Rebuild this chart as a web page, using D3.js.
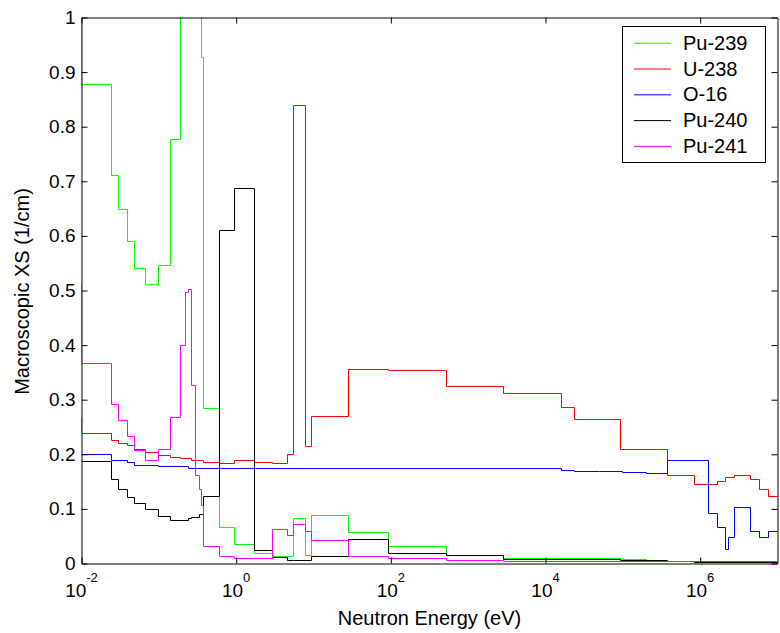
<!DOCTYPE html>
<html>
<head>
<meta charset="utf-8">
<script src="https://cdn.jsdelivr.net/npm/d3@7/dist/d3.min.js"></script>
<style>
  body { margin: 0; background: #fff; }
  text { font-family: "Liberation Sans", Arial, Helvetica, sans-serif; fill: #000; }
</style>
</head>
<body>
<svg id="chart" width="780" height="633"></svg>
<script>
// group start energy (eV), macroscopic XS (1/cm)
const pu239 = [
  [0.001, 1.1], [0.01, 0.877], [0.0245, 0.71], [0.030, 0.648], [0.039, 0.59], [0.048, 0.54],
  [0.067, 0.511], [0.098, 0.546], [0.141, 0.777], [0.189, 2.5], [0.354, 0.927], [0.383, 0.283],
  [0.60, 0.0655], [0.964, 0.034], [1.71, 0.0187], [2.93, 0.0125], [5.58, 0.0827], [7.82, 0.0155],
  [9.46, 0.0887], [28.3, 0.057], [93.8, 0.0307], [519, 0.0155], [2894, 0.0095], [94200, 0.0075],
  [2.0e5, 0.005], [3.74e5, 0.003], [8.45e5, 0.0015], [2.0e6, 0.001]
];
const u238 = [
  [0.001, 0.268], [0.01, 0.238], [0.0245, 0.226], [0.030, 0.22], [0.039, 0.216], [0.048, 0.209],
  [0.067, 0.203], [0.098, 0.198], [0.141, 0.195], [0.19, 0.192], [0.265, 0.188], [0.383, 0.1845],
  [0.60, 0.183], [0.964, 0.188], [1.71, 0.185], [2.93, 0.183], [4.57, 0.2], [5.58, 0.838],
  [7.82, 0.215], [9.46, 0.27], [28.3, 0.355], [93.8, 0.353], [519, 0.324], [2894, 0.311],
  [16100, 0.285], [23500, 0.264], [94200, 0.209], [3.74e5, 0.162], [8.45e5, 0.144],
  [1.67e6, 0.150], [2.14e6, 0.157], [2.8e6, 0.162], [4.42e6, 0.154], [5.9e6, 0.136], [7.55e6, 0.1235]
];
const o16 = [
  [0.01, 0.2], [0.0245, 0.189], [0.039, 0.185], [0.048, 0.18], [0.098, 0.177], [0.24, 0.1735],
  [16100, 0.171], [23500, 0.169], [50000, 0.168], [1.0e5, 0.167], [2.0e5, 0.165], [3.74e5, 0.188],
  [1.266e6, 0.092], [1.674e6, 0.066], [2.14e6, 0.0265], [2.32e6, 0.048], [2.8e6, 0.103],
  [4.42e6, 0.0595], [5.9e6, 0.048], [7.55e6, 0.0595]
];
const pu240 = [
  [0.01, 0.186], [0.0245, 0.153], [0.030, 0.136], [0.039, 0.121], [0.048, 0.109], [0.067, 0.098],
  [0.098, 0.0857], [0.141, 0.0796], [0.24, 0.082], [0.2657, 0.085], [0.34, 0.09], [0.383, 0.1235],
  [0.60, 0.61], [0.964, 0.6865], [1.71, 0.0247], [2.93, 0.0113], [4.57, 0.0064], [5.58, 0.0046],
  [9.46, 0.0137], [28.3, 0.044], [93.8, 0.0187], [519, 0.0143], [2894, 0.0082], [94200, 0.005],
  [3.74e5, 0.003], [8.45e5, 0.002]
];
const pu241 = [
  [0.001, 0.513], [0.01, 0.367], [0.0245, 0.291], [0.030, 0.2625], [0.039, 0.232], [0.048, 0.2077],
  [0.067, 0.188], [0.098, 0.209], [0.141, 0.267], [0.189, 0.3985], [0.221, 0.4955], [0.24, 0.502],
  [0.2657, 0.3266], [0.298, 0.162], [0.34, 0.135], [0.354, 0.107], [0.383, 0.031], [0.60, 0.0125],
  [0.964, 0.0095], [2.93, 0.0626], [4.57, 0.051], [5.58, 0.0717], [7.82, 0.0595], [9.46, 0.043],
  [28.3, 0.0137], [93.8, 0.0095], [519, 0.0046], [2894, 0.003]
];

const seriesNames = ["Pu-239", "U-238", "O-16", "Pu-240", "Pu-241"];
const seriesData = [pu239, u238, o16, pu240, pu241];
const seriesColors = ["#00ff00", "#ff0000", "#0000ff", "#000000", "#ff00ff"];

const xDomain = [1e-2, 1e7];
const xTicks = [1e-2, 1e0, 1e2, 1e4, 1e6];
const xTickExps = ["-2", "0", "2", "4", "6"];
const yTicks = [0, 0.1, 0.2, 0.3, 0.4, 0.5, 0.6, 0.7, 0.8, 0.9, 1];
const yTickLabels = ["0", "0.1", "0.2", "0.3", "0.4", "0.5", "0.6", "0.7", "0.8", "0.9", "1"];

const svg = d3.select("#chart");
const plotLeft = 81.5, plotRight = 777.5, plotTop = 17.5, plotBottom = 563.5;

const x = d3.scaleLog().domain(xDomain).range([plotLeft, plotRight]);
const y = d3.scaleLinear().domain([0, 1]).range([plotBottom, plotTop]);

// clip the lines to the axes box
svg.append("defs").append("clipPath").attr("id", "plot-clip")
  .append("rect")
  .attr("x", plotLeft).attr("y", plotTop)
  .attr("width", plotRight - plotLeft).attr("height", plotBottom - plotTop);

// snap to pixel centres so the 1px stairs keep their pure colour
const snap = v => Math.round(v - 0.5) + 0.5;
const line = d3.line()
  .x(d => snap(x(d[0])))
  .y(d => snap(y(d[1])))
  .curve(d3.curveStepAfter);

const plot = svg.append("g").attr("clip-path", "url(#plot-clip)");
seriesData.forEach((s, i) => {
  // close the last group at the upper energy limit
  const pts = s.concat([[xDomain[1], s[s.length - 1][1]]]);
  plot.append("path")
    .attr("d", line(pts))
    .attr("fill", "none")
    .attr("stroke", seriesColors[i])
    .attr("stroke-width", 1);
});

// axes box with inward ticks on all four sides
function styleAxis(g) {
  g.select(".domain").attr("stroke", "#000").attr("stroke-width", 1);
  g.selectAll(".tick line").attr("stroke", "#000");
  g.attr("font-family", null).attr("font-size", null);
}

svg.append("g")
  .attr("transform", `translate(0,${plotBottom})`)
  .call(d3.axisBottom(x).tickValues(xTicks).tickSizeInner(-6).tickSizeOuter(0).tickFormat(""))
  .call(styleAxis);

svg.append("g")
  .attr("transform", `translate(0,${plotTop})`)
  .call(d3.axisTop(x).tickValues(xTicks).tickSizeInner(-6).tickSizeOuter(0).tickFormat(""))
  .call(styleAxis);

svg.append("g")
  .attr("transform", `translate(${plotLeft},0)`)
  .call(d3.axisLeft(y).tickValues(yTicks).tickSizeInner(-6).tickSizeOuter(0).tickPadding(6)
    .tickFormat((d, i) => yTickLabels[i]))
  .call(styleAxis)
  .selectAll(".tick text")
  .style("font-size", "19px");

svg.append("g")
  .attr("transform", `translate(${plotRight},0)`)
  .call(d3.axisRight(y).tickValues(yTicks).tickSizeInner(-6).tickSizeOuter(0).tickFormat(""))
  .call(styleAxis);

// x tick labels as 10^n
const xLab = svg.append("g").selectAll("text")
  .data(xTicks)
  .enter()
  .append("text")
  .attr("x", d => x(d))
  .attr("y", 597)
  .attr("text-anchor", "middle")
  .style("font-size", "19px");
xLab.append("tspan").text("10");
xLab.append("tspan")
  .attr("dy", -15)
  .style("font-size", "13px")
  .text((d, i) => xTickExps[i]);

// axis titles
svg.append("text")
  .attr("x", (plotLeft + plotRight) / 2)
  .attr("y", 625)
  .attr("text-anchor", "middle")
  .style("font-size", "20px")
  .text("Neutron Energy (eV)");

svg.append("text")
  .attr("transform", `translate(29,${(plotTop + plotBottom) / 2 + 1}) rotate(-90)`)
  .attr("text-anchor", "middle")
  .style("font-size", "20px")
  .text("Macroscopic XS (1/cm)");

// legend
const legend = svg.append("g");
legend.append("rect")
  .attr("x", 622.5).attr("y", 26.5)
  .attr("width", 143).attr("height", 136)
  .attr("fill", "#fff")
  .attr("stroke", "#000")
  .attr("stroke-width", 1);

const rows = legend.selectAll(".row")
  .data(seriesNames)
  .enter()
  .append("g")
  .attr("class", "row")
  .attr("transform", (d, i) => `translate(0,${42.7 + i * 25.8})`);
rows.append("line")
  .attr("x1", 634).attr("x2", 671)
  .attr("y1", 0.5).attr("y2", 0.5)
  .attr("stroke", (d, i) => seriesColors[i])
  .attr("stroke-width", 1);
rows.append("text")
  .attr("x", 683)
  .attr("dy", "0.35em")
  .style("font-size", "20px")
  .text(d => d);
</script>
</body>
</html>
